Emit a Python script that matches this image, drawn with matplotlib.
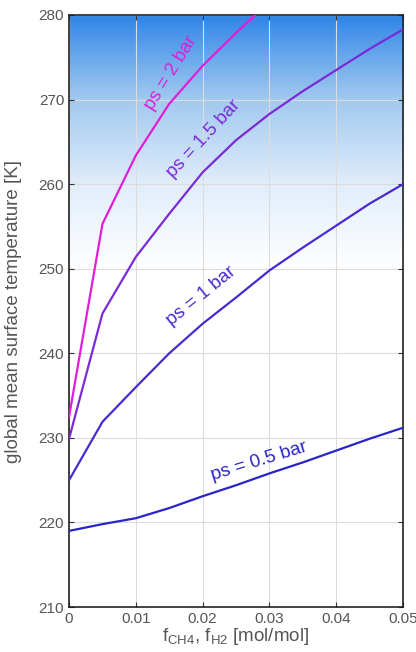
import matplotlib
matplotlib.use('Agg')
import matplotlib.pyplot as plt
import numpy as np
from matplotlib.colors import LinearSegmentedColormap

plt.rcParams['font.family'] = ['Liberation Sans', 'DejaVu Sans']
plt.rcParams['mathtext.fontset'] = 'custom'
plt.rcParams['mathtext.rm'] = 'Liberation Sans'

# mixing ratio f_CH4, f_H2 [mol/mol]
f_mix = [0.0, 0.005, 0.01, 0.015, 0.02, 0.025, 0.03, 0.035, 0.04, 0.045, 0.05]

# global mean surface temperature [K] per surface pressure
T_05bar = [219.0, 219.8, 220.5, 221.7, 223.1, 224.4, 225.8, 227.1, 228.5, 229.9, 231.2]
T_1bar = [225.0, 231.9, 236.0, 240.0, 243.5, 246.6, 249.8, 252.5, 255.1, 257.7, 260.0]
T_15bar = [229.9, 244.7, 251.4, 256.5, 261.4, 265.2, 268.3, 271.0, 273.5, 276.0, 278.3]
f_mix_2bar = [0.0, 0.005, 0.01, 0.015, 0.02, 0.025, 0.03]
T_2bar = [232.5, 255.3, 263.4, 269.5, 274.0, 277.9, 281.6]

labels = ['ps = 0.5 bar', 'ps = 1 bar', 'ps = 1.5 bar', 'ps = 2 bar']
colors = ['#2a24c8', '#4a2ad0', '#7a2ad8', '#e01ed8']

xticks = [0, 0.01, 0.02, 0.03, 0.04, 0.05]
xticklabels = ['0', '0.01', '0.02', '0.03', '0.04', '0.05']
yticks = [210, 220, 230, 240, 250, 260, 270, 280]

fig = plt.figure(figsize=(4.16, 6.52), dpi=100)
ax = fig.add_axes([0.166, 0.069, 0.803, 0.908])

# blue sky gradient in the background
sky = LinearSegmentedColormap.from_list('sky', [(0.0, '#ffffff'), (0.57, '#ffffff'),
                                                (0.71, '#e2eefb'), (0.86, '#a0c8f0'),
                                                (0.93, '#68a8ec'), (1.0, '#2f84e6')])
grad = np.linspace(0, 1, 256).reshape(-1, 1)
ax.imshow(grad, cmap=sky, origin='lower', aspect='auto',
          extent=[0, 0.05, 210, 280], zorder=0)

ax.grid(True, color='#dcdcdc', linewidth=0.8, zorder=1)

ax.plot(f_mix, T_05bar, color=colors[0], linewidth=1.6, zorder=3)
ax.plot(f_mix, T_1bar, color=colors[1], linewidth=1.6, zorder=3)
ax.plot(f_mix, T_15bar, color=colors[2], linewidth=1.6, zorder=3)
ax.plot(f_mix_2bar, T_2bar, color=colors[3], linewidth=1.6, zorder=3)

# labels along the curves
ax.text(0.0284, 227.2, labels[0], color=colors[0], rotation=17, fontsize=13.5,
        ha='center', va='center')
ax.text(0.0198, 246.8, labels[1], color=colors[1], rotation=39, fontsize=13.5,
        ha='center', va='center')
ax.text(0.0201, 265.4, labels[2], color=colors[2], rotation=47, fontsize=13.5,
        ha='center', va='center')
ax.text(0.0152, 273.2, labels[3], color=colors[3], rotation=58, fontsize=13.5,
        ha='center', va='center')

ax.set_xlim(0, 0.05)
ax.set_ylim(210, 280)
ax.set_xticks(xticks)
ax.set_xticklabels(xticklabels)
ax.set_yticks(yticks)
ax.tick_params(direction='in', top=True, right=True, labelsize=11, colors='#333333',
               labelcolor='#555555')
for s in ax.spines.values():
    s.set_color('#222222')
    s.set_linewidth(1.2)

ax.set_xlabel(r'f$_{\mathregular{CH4}}$, f$_{\mathregular{H2}}$ [mol/mol]', fontsize=13.5,
              color='#555555', labelpad=0)
ax.set_ylabel('global mean surface temperature [K]', fontsize=13.5, color='#555555')
ax.yaxis.set_label_coords(-0.14, 0.5)

fig.savefig('out.png', dpi=100)
